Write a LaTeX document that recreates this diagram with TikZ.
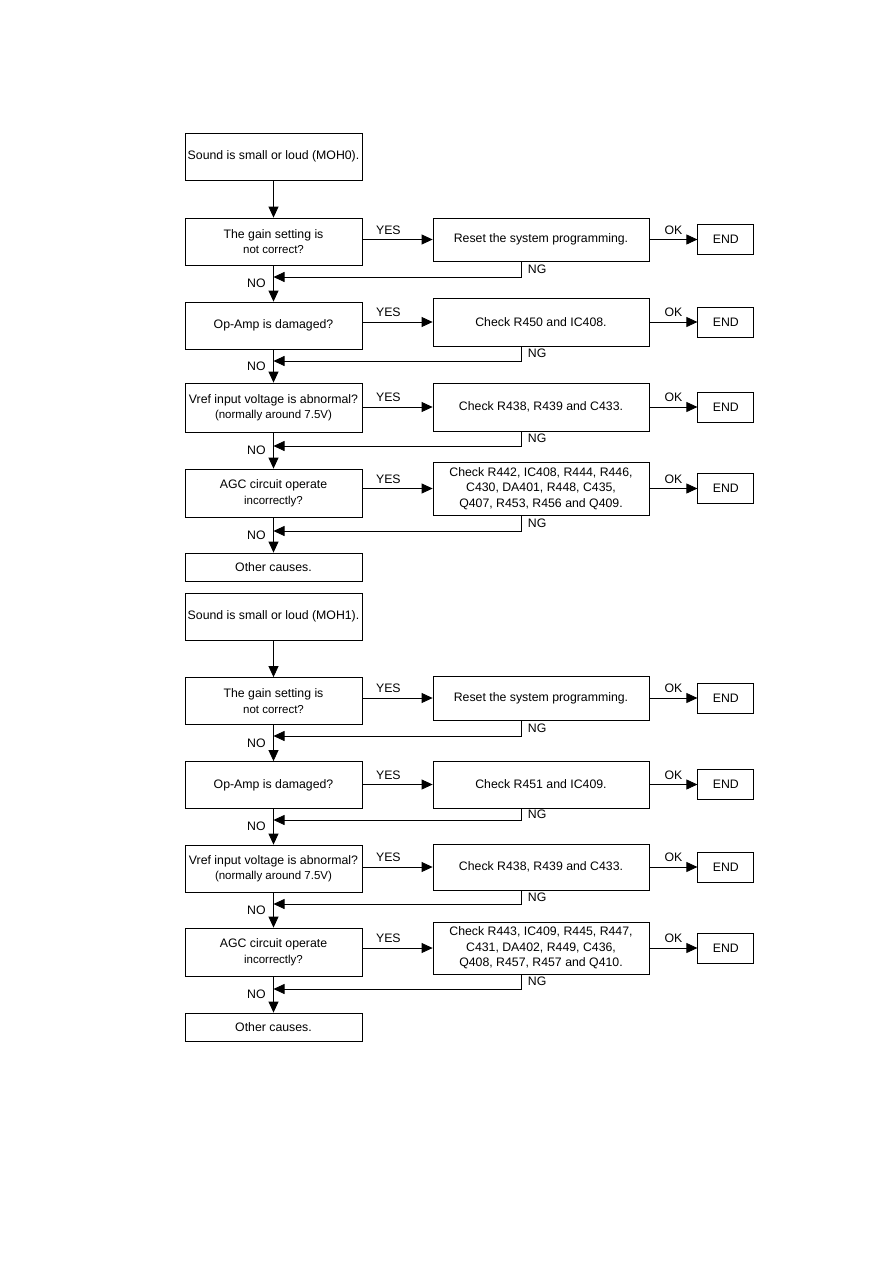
\documentclass[tikz,border=0pt]{standalone}
\usepackage{fontspec}
\setmainfont{Liberation Sans}
\usetikzlibrary{arrows.meta,positioning}
\newcommand{\lowline}[1]{{\fontsize{11.5}{15.5}\selectfont #1}}

\begin{document}
\begin{tikzpicture}[x=1pt, y=-1pt,
  box/.style={draw, line width=0.8pt, align=center, inner sep=2pt,
    font=\fontsize{12.3}{15.5}\selectfont},
  lbox/.style={box, minimum width=177pt, minimum height=47pt},
  rbox/.style={box, minimum width=216pt, minimum height=46pt},
  endbox/.style={box, minimum width=56pt, minimum height=30pt},
  arr/.style={-{Triangle[length=11pt,width=10pt]}, line width=0.8pt},
  lbl/.style={font=\fontsize{12.3}{14}\selectfont, inner sep=1.5pt},
  node distance=48pt,
]
\useasboundingbox (0,0) rectangle (893,1263);

% ===== MOH0 =====
\node[lbox] (s0) at (273.5,156.5) {Sound is small or loud (MOH0).};

\node[lbox] (g0) at (273.5,241.5) {The gain setting is\\\lowline{not correct?}};
\node[rbox, minimum height=43pt] (r0g) at (541,239.5) {Reset the system programming.};
\node[endbox, right=of r0g] (e0g) {END};
\coordinate (n0g) at (273.5,277);

\node[lbox] (o0) at (273.5,325.5) {Op-Amp is damaged?};
\node[rbox, minimum height=48pt] (r0o) at (541,322) {Check R450 and IC408.};
\node[endbox, right=of r0o] (e0o) {END};
\coordinate (n0o) at (273.5,361);

\node[lbox, minimum height=49pt] (v0) at (273.5,407.5) {Vref input voltage is abnormal?\\\lowline{(normally around 7.5V)}};
\node[rbox, minimum height=48pt] (r0v) at (541,407) {Check R438, R439 and C433.};
\node[endbox, right=of r0v] (e0v) {END};
\coordinate (n0v) at (273.5,446);

\node[lbox, minimum height=48pt] (a0) at (273.5,493) {AGC circuit operate\\\lowline{incorrectly?}};
\node[rbox, minimum height=53pt] (r0a) at (541,488.5) {Check R442, IC408, R444, R446,\\C430, DA401, R448, C435,\\Q407, R453, R456 and Q409.};
\node[endbox, right=of r0a] (e0a) {END};
\coordinate (n0a) at (273.5,531);

\node[lbox, minimum height=28pt] (c0) at (273.5,567) {Other causes.};

\draw[arr] (s0) -- (g0);
\draw[arr] (g0.east |- r0g.west) -- node[lbl, above=3pt, pos=0.37] {YES} (r0g.west);
\draw[arr] (r0g) -- node[lbl, above=3pt] {OK} (e0g);
\draw[arr] ([xshift=-20pt]r0g.south) -- node[lbl, right=5pt] {NG} ([xshift=-20pt]r0g.south |- n0g) -- (n0g);
\draw[arr] (g0) -- node[lbl, left=6pt] {NO} (o0);

\draw[arr] (o0.east |- r0o.west) -- node[lbl, above=3pt, pos=0.37] {YES} (r0o.west);
\draw[arr] (r0o) -- node[lbl, above=3pt] {OK} (e0o);
\draw[arr] ([xshift=-20pt]r0o.south) -- node[lbl, right=5pt] {NG} ([xshift=-20pt]r0o.south |- n0o) -- (n0o);
\draw[arr] (o0) -- node[lbl, left=6pt] {NO} (v0);

\draw[arr] (v0.east |- r0v.west) -- node[lbl, above=3pt, pos=0.37] {YES} (r0v.west);
\draw[arr] (r0v) -- node[lbl, above=3pt] {OK} (e0v);
\draw[arr] ([xshift=-20pt]r0v.south) -- node[lbl, right=5pt] {NG} ([xshift=-20pt]r0v.south |- n0v) -- (n0v);
\draw[arr] (v0) -- node[lbl, left=6pt] {NO} (a0);

\draw[arr] (a0.east |- r0a.west) -- node[lbl, above=3pt, pos=0.37] {YES} (r0a.west);
\draw[arr] (r0a) -- node[lbl, above=3pt] {OK} (e0a);
\draw[arr] ([xshift=-20pt]r0a.south) -- node[lbl, right=5pt] {NG} ([xshift=-20pt]r0a.south |- n0a) -- (n0a);
\draw[arr] (a0) -- node[lbl, left=6pt] {NO} (c0);

% ===== MOH1 =====
\node[lbox] (s1) at (273.5,616.5) {Sound is small or loud (MOH1).};

\node[lbox] (g1) at (273.5,701) {The gain setting is\\\lowline{not correct?}};
\node[rbox, minimum height=44pt] (r1g) at (541,698) {Reset the system programming.};
\node[endbox, right=of r1g] (e1g) {END};
\coordinate (n1g) at (273.5,736);

\node[lbox] (o1) at (273.5,785) {Op-Amp is damaged?};
\node[rbox, minimum height=47pt] (r1o) at (541,784.5) {Check R451 and IC409.};
\node[endbox, right=of r1o] (e1o) {END};
\coordinate (n1o) at (273.5,820);

\node[lbox] (v1) at (273.5,868.5) {Vref input voltage is abnormal?\\\lowline{(normally around 7.5V)}};
\node[rbox, minimum height=46pt] (r1v) at (541,867) {Check R438, R439 and C433.};
\node[endbox, right=of r1v] (e1v) {END};
\coordinate (n1v) at (273.5,904);

\node[lbox, minimum height=48pt] (a1) at (273.5,952) {AGC circuit operate\\\lowline{incorrectly?}};
\node[rbox, minimum height=52pt] (r1a) at (541,948) {Check R443, IC409, R445, R447,\\C431, DA402, R449, C436,\\Q408, R457, R457 and Q410.};
\node[endbox, right=of r1a] (e1a) {END};
\coordinate (n1a) at (273.5,989);

\node[lbox, minimum height=28pt] (c1) at (273.5,1027) {Other causes.};

\draw[arr] (s1) -- (g1);
\draw[arr] (g1.east |- r1g.west) -- node[lbl, above=3pt, pos=0.37] {YES} (r1g.west);
\draw[arr] (r1g) -- node[lbl, above=3pt] {OK} (e1g);
\draw[arr] ([xshift=-20pt]r1g.south) -- node[lbl, right=5pt] {NG} ([xshift=-20pt]r1g.south |- n1g) -- (n1g);
\draw[arr] (g1) -- node[lbl, left=6pt] {NO} (o1);

\draw[arr] (o1.east |- r1o.west) -- node[lbl, above=3pt, pos=0.37] {YES} (r1o.west);
\draw[arr] (r1o) -- node[lbl, above=3pt] {OK} (e1o);
\draw[arr] ([xshift=-20pt]r1o.south) -- node[lbl, right=5pt] {NG} ([xshift=-20pt]r1o.south |- n1o) -- (n1o);
\draw[arr] (o1) -- node[lbl, left=6pt] {NO} (v1);

\draw[arr] (v1.east |- r1v.west) -- node[lbl, above=3pt, pos=0.37] {YES} (r1v.west);
\draw[arr] (r1v) -- node[lbl, above=3pt] {OK} (e1v);
\draw[arr] ([xshift=-20pt]r1v.south) -- node[lbl, right=5pt] {NG} ([xshift=-20pt]r1v.south |- n1v) -- (n1v);
\draw[arr] (v1) -- node[lbl, left=6pt] {NO} (a1);

\draw[arr] (a1.east |- r1a.west) -- node[lbl, above=3pt, pos=0.37] {YES} (r1a.west);
\draw[arr] (r1a) -- node[lbl, above=3pt] {OK} (e1a);
\draw[arr] ([xshift=-20pt]r1a.south) -- node[lbl, right=5pt] {NG} ([xshift=-20pt]r1a.south |- n1a) -- (n1a);
\draw[arr] (a1) -- node[lbl, left=6pt] {NO} (c1);

\end{tikzpicture}
\end{document}
